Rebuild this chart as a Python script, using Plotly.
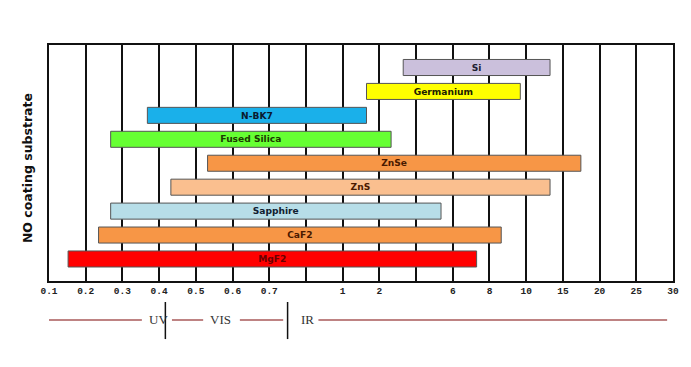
import plotly.graph_objects as go

# Wavelength axis (µm): positions are equally spaced grid columns, labelled as in the chart
tick_labels = ["0.1", "0.2", "0.3", "0.4", "0.5", "0.6", "0.7", "", "1", "2", "", "6", "8", "10", "15", "20", "25", "30"]
tick_positions = list(range(len(tick_labels)))

# Substrates (bottom to top) and their transmission ranges in axis units
materials = ["MgF2", "CaF2", "Sapphire", "ZnS", "ZnSe", "Fused Silica", "N-BK7", "Germanium", "Si"]
band_start = [0.52, 1.35, 1.68, 3.32, 4.32, 1.68, 2.68, 8.65, 9.65]
band_end = [11.65, 12.32, 10.68, 13.65, 14.49, 9.32, 8.65, 12.84, 13.65]
bar_colors = ["#ff0000", "#f79646", "#b7dee8", "#fabf8f", "#f79646", "#66ff33", "#1ab0ea", "#ffff00", "#cbc0dc"]
label_colors = ["#6a0000", "#4a1a00", "#102030", "#4a1a00", "#4a1a00", "#1a3a00", "#0a1a30", "#202000", "#202030"]

# Spectral regions shown under the axis
region_names = ["UV", "VIS", "IR"]
region_bounds = [3.17, 6.5]

fig = go.Figure()
fig.add_trace(go.Bar(
    y=materials,
    x=[e - s for s, e in zip(band_start, band_end)],
    base=band_start,
    orientation="h",
    width=0.67,
    marker=dict(color=bar_colors, line=dict(color="#555555", width=1)),
    text=[f"<b>{m}</b>" for m in materials],
    textposition="inside",
    insidetextanchor="middle",
    textangle=0,
    textfont=dict(family="DejaVu Sans", size=10, color=label_colors),
    hoverinfo="skip",
    showlegend=False,
))

fig.update_layout(
    width=683, height=359,
    margin=dict(l=41, r=14, t=37, b=86),
    paper_bgcolor="white", plot_bgcolor="white",
    xaxis=dict(
        range=[0, 17],
        tickmode="array", tickvals=tick_positions, ticktext=tick_labels,
        showgrid=True, gridcolor="#111111", gridwidth=1.5,
        zeroline=False,
        showline=True, linecolor="#111111", linewidth=1.5, mirror=True,
        ticks="",
        tickfont=dict(family="Liberation Mono, Courier New", size=9.5, color="#222222", weight="bold"),
    ),
    yaxis=dict(
        categoryorder="array", categoryarray=materials,
        range=[-0.92, 8.94],
        showticklabels=False, showgrid=False, zeroline=False,
        showline=True, linecolor="#111111", linewidth=1.5, mirror=True,
        ticks="",
    ),
    bargap=0.33,
)

# y-axis title
fig.add_annotation(
    xref="paper", yref="paper", x=-0.0334, y=0.479,
    text="<b>NO coating substrate</b>", textangle=-90, showarrow=False,
    font=dict(family="DejaVu Sans", size=12.5, color="#111111"),
    xanchor="center", yanchor="middle",
)

# Region bar below the axis
line_y = -0.165
line_color = "#a85a5a"
segments = [(0.0, 2.53), (3.35, 4.2), (5.2, 6.38), (7.34, 16.84)]
for x0, x1 in segments:
    fig.add_shape(type="line", xref="x", yref="paper", x0=x0, x1=x1, y0=line_y, y1=line_y,
                  line=dict(color=line_color, width=1.5))
for b in region_bounds:
    fig.add_shape(type="line", xref="x", yref="paper", x0=b, x1=b, y0=-0.089, y1=-0.246,
                  line=dict(color="#111111", width=1.5))
region_centers = [2.98, 4.68, 7.04]
for name, cx in zip(region_names, region_centers):
    fig.add_annotation(xref="x", yref="paper", x=cx, y=line_y, text=name, showarrow=False,
                       font=dict(family="Liberation Serif, Times New Roman", size=13, color="#333333"),
                       xanchor="center", yanchor="middle")

fig.write_html("out.html")
